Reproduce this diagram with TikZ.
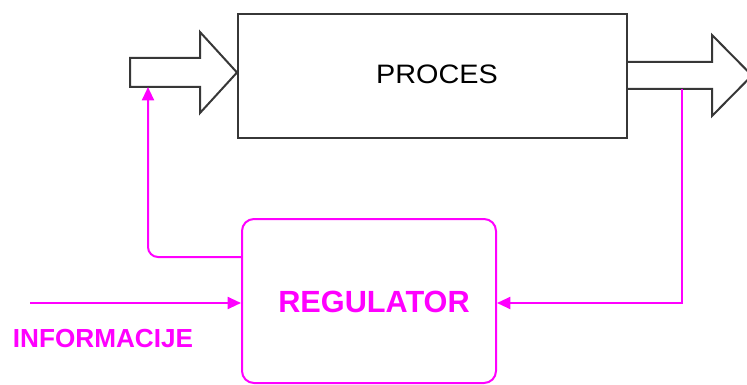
\documentclass[tikz,border=0pt]{standalone}
\usepackage{fontspec}
\setmainfont{Liberation Sans}
\usetikzlibrary{arrows.meta,calc}
\definecolor{mag}{RGB}{255,0,255}
\definecolor{dk}{RGB}{55,55,55}
\tikzset{
  procbox/.style={draw=dk,line width=1.5pt,minimum width=291.75pt,minimum height=93pt,inner sep=0pt},
  regbox/.style={draw=mag,line width=1.5pt,rounded corners=9pt,minimum width=190.5pt,minimum height=123pt,inner sep=0pt},
  bigarrow/.style={draw=dk,line width=1.5pt,fill=white,line join=miter},
  magline/.style={draw=mag,line width=1.5pt},
  magtip/.style={-{Triangle[length=10pt,width=9pt]}},
  txt/.style={inner sep=0pt,font=\fontsize{20}{24}\selectfont}
}
\begin{document}
\begin{tikzpicture}[x=0.75pt,y=-0.75pt]
\useasboundingbox (0,0) rectangle (747,385);
\clip (0,0) rectangle (747,385);
% process
\node[procbox] (proc) at (432.5,76) {};
\node[txt] (proctxt) at (437,74) {\scalebox{1.08}[1]{PROCES}};
% big input arrow
\draw[bigarrow] (130,58) -- (200,58) -- (200,32) -- (proc.west |- 0,72.5) -- (200,113) -- (200,87) -- (130,87) -- cycle;
% big output arrow
\draw[bigarrow] (proc.east |- 0,62) -- (712,62) -- (712,35) -- (752,75.5) -- (712,116) -- (712,89) -- (proc.east |- 0,89);
% regulator
\node[regbox] (reg) at (369,301) {};
\node[txt,text=mag,font=\fontsize{23}{27}\selectfont\bfseries] (regtxt) at (374,302) {REGULATOR};
% coordinates
\coordinate (inA) at (148,87);
\coordinate (outA) at (682,89);
\coordinate (infoStart) at (30,303);
% connectors
\draw[magline,magtip,rounded corners=7.5pt] ($(reg.north west)+(0,39)$) -| (inA);
\draw[magline,magtip] (outA) |- ($(reg.east)+(0,2)$);
\draw[magline,magtip] (infoStart) -- (infoStart -| reg.west);
\node[txt,text=mag,font=\fontsize{19.6}{23}\selectfont\bfseries] (info) at (103,339) {INFORMACIJE};
\end{tikzpicture}
\end{document}
